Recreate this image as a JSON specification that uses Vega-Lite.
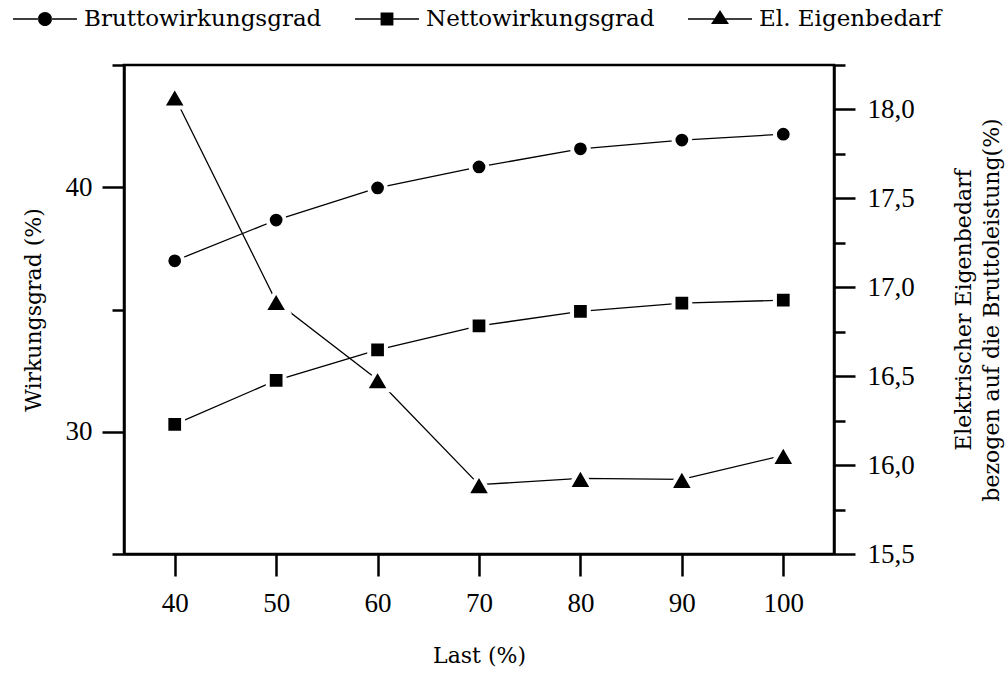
{
  "$schema": "https://vega.github.io/schema/vega-lite/v6.json",
  "autosize": "none",
  "width": 710,
  "height": 489,
  "padding": {"left": 124, "top": 65, "right": 171, "bottom": 119},
  "background": "white",
  "config": {
    "view": {"stroke": "black", "strokeWidth": 2.5},
    "font": "DejaVu Serif",
    "axis": {
      "domainColor": "black", "domainWidth": 2.5, "tickColor": "black", "tickWidth": 2.5,
      "labelFont": "Liberation Serif", "labelFontSize": 27, "labelColor": "black",
      "titleFont": "DejaVu Serif", "titleFontSize": 22, "titleFontWeight": "normal", "titleColor": "black",
      "grid": false
    }
  },
  "data": {"values": [
    {"last": 40, "series": "Bruttowirkungsgrad", "value": 36.99},
    {"last": 50, "series": "Bruttowirkungsgrad", "value": 38.66},
    {"last": 60, "series": "Bruttowirkungsgrad", "value": 39.97},
    {"last": 70, "series": "Bruttowirkungsgrad", "value": 40.83},
    {"last": 80, "series": "Bruttowirkungsgrad", "value": 41.57},
    {"last": 90, "series": "Bruttowirkungsgrad", "value": 41.93},
    {"last": 100, "series": "Bruttowirkungsgrad", "value": 42.17},
    {"last": 40, "series": "Nettowirkungsgrad", "value": 30.3},
    {"last": 50, "series": "Nettowirkungsgrad", "value": 32.1},
    {"last": 60, "series": "Nettowirkungsgrad", "value": 33.35},
    {"last": 70, "series": "Nettowirkungsgrad", "value": 34.33},
    {"last": 80, "series": "Nettowirkungsgrad", "value": 34.92},
    {"last": 90, "series": "Nettowirkungsgrad", "value": 35.26},
    {"last": 100, "series": "Nettowirkungsgrad", "value": 35.38},
    {"last": 40, "series": "El. Eigenbedarf", "value": 18.07},
    {"last": 50, "series": "El. Eigenbedarf", "value": 16.92},
    {"last": 60, "series": "El. Eigenbedarf", "value": 16.48},
    {"last": 70, "series": "El. Eigenbedarf", "value": 15.89},
    {"last": 80, "series": "El. Eigenbedarf", "value": 15.925},
    {"last": 90, "series": "El. Eigenbedarf", "value": 15.92},
    {"last": 100, "series": "El. Eigenbedarf", "value": 16.055}
  ]},
  "layer": [
    {
      "transform": [{"filter": "datum.series !== 'El. Eigenbedarf'"}],
      "encoding": {
        "x": {"field": "last", "type": "quantitative", "scale": {"domain": [35, 105], "nice": false, "zero": false},
          "axis": {"orient": "bottom", "values": [40, 50, 60, 70, 80, 90, 100], "tickSize": 22, "labelPadding": 14, "title": "Last (%)", "titlePadding": 29}},
        "y": {"field": "value", "type": "quantitative", "scale": {"domain": [25, 45], "nice": false, "zero": false},
          "axis": {"orient": "left", "values": [25, 30, 35, 40, 45],
            "tickSize": {"condition": {"test": "datum.value % 10 === 0", "value": 22}, "value": 12},
            "labelExpr": "datum.value % 10 === 0 ? datum.label : ''",
            "labelPadding": 10, "title": "Wirkungsgrad (%)", "titlePadding": 20}}
      },
      "layer": [
        {"mark": {"type": "line", "color": "black", "strokeWidth": 1.3}, "encoding": {"detail": {"field": "series"}}},
        {"mark": {"type": "point", "filled": true, "fill": "black", "stroke": "white", "strokeWidth": 4, "opacity": 1, "size": 280},
          "encoding": {"shape": {"field": "series", "type": "nominal",
            "scale": {"domain": ["Bruttowirkungsgrad", "Nettowirkungsgrad"], "range": ["circle", "square"]},
            "legend": null}}}
      ]
    },
    {
      "transform": [{"filter": "datum.series === 'El. Eigenbedarf'"}],
      "encoding": {
        "x": {"field": "last", "type": "quantitative", "scale": {"domain": [35, 105], "nice": false, "zero": false}},
        "y": {"field": "value", "type": "quantitative", "scale": {"domain": [15.5, 18.25], "nice": false, "zero": false},
          "axis": {"orient": "right", "values": [15.5, 15.75, 16, 16.25, 16.5, 16.75, 17, 17.25, 17.5, 17.75, 18, 18.25],
            "tickSize": {"condition": {"test": "(datum.value * 2) % 1 === 0", "value": 21}, "value": 11},
            "labelExpr": "(datum.value * 2) % 1 === 0 ? replace(format(datum.value, '.1f'), '.', ',') : ''",
            "labelPadding": 12, "title": ["Elektrischer Eigenbedarf", "bezogen auf die Bruttoleistung(%)"], "titleAngle": 270, "titlePadding": 33, "titleLineHeight": 28}}
      },
      "layer": [
        {"mark": {"type": "line", "color": "black", "strokeWidth": 1.3}, "encoding": {}},
        {"mark": {"type": "point", "shape": "triangle-up", "filled": true, "fill": "black", "stroke": "white", "strokeWidth": 4, "opacity": 1, "size": 600},
          "encoding": {}}
      ]
    },
    {
      "transform": [{"filter": "false"}],
      "mark": {"type": "point", "filled": true, "color": "black", "opacity": 1},
      "encoding": {"shape": {"field": "series", "type": "nominal",
        "scale": {"domain": ["Bruttowirkungsgrad", "Nettowirkungsgrad", "El. Eigenbedarf"],
          "range": [
            "M-1,-0.021H-0.21V0.021H-1ZM0.21,-0.021H1V0.021H0.21ZM-0.22,0A0.22,0.22 0 1,0 0.22,0A0.22,0.22 0 1,0 -0.22,0Z",
            "M-1,-0.021H-0.2V0.021H-1ZM0.2,-0.021H1V0.021H0.2ZM-0.2,-0.2H0.2V0.2H-0.2Z",
            "M-1,-0.021H-0.17V0.021H-1ZM0.17,-0.021H1V0.021H0.17ZM0,-0.28L0.28,0.16H-0.28Z"
          ]},
        "legend": {"orient": "none", "legendX": -112, "legendY": -79, "direction": "horizontal", "title": null,
          "gridAlign": "none", "columnPadding": 30, "padding": 0,
          "labelFont": "DejaVu Serif", "labelFontSize": 23, "labelColor": "black", "labelOffset": 6, "labelLimit": 0,
          "symbolSize": 4096, "symbolFillColor": "black", "symbolOpacity": 1}}}
    }
  ],
  "resolve": {"scale": {"y": "independent", "shape": "independent"}}
}
